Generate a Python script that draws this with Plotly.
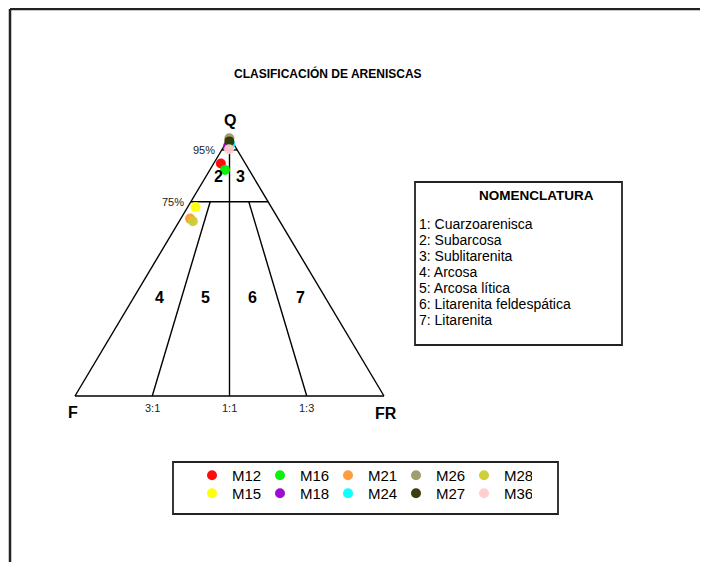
import plotly.graph_objects as go

W, H = 708, 562
OFF = 8  # margen del body de la pagina
FW, FH = W - OFF, H - OFF
FONT = 'Liberation Sans, Arial, sans-serif'

# composicion modal (%): Q = cuarzo, F = feldespato, FR = fragmentos de roca
row1 = ['M12', 'M16', 'M21', 'M26', 'M28']
row2 = ['M15', 'M18', 'M24', 'M27', 'M36']
samples = row1 + row2
q = [89.8, 87.3, 68.5, 99.5, 67.5, 73.0, 96.5, 97.3, 98.3, 95.3]
fr = [2.3, 4.9, 3.0, 0.2, 4.4, 2.5, 1.3, 1.6, 0.8, 2.2]
f = [round(100 - a - b, 1) for a, b in zip(q, fr)]
colors = ['#ff0000', '#00ee00', '#ff9933', '#999966', '#cccc33',
          '#ffff00', '#9900cc', '#00ffff', '#333300', '#ffcccc']

q_limits = [95, 75]          # lineas horizontales 95% y 75%
ratios = [3 / 4, 1 / 2, 1 / 4]  # F/(F+FR): 3:1, 1:1, 1:3
ratio_labels = ['3:1', '1:1', '1:3']
region_labels = ['2', '3', '4', '5', '6', '7']
nomenclatura = ['1: Cuarzoarenisca', '2: Subarcosa', '3: Sublitarenita', '4: Arcosa',
                '5: Arcosa lítica', '6: Litarenita feldespática', '7: Litarenita']


def to_xy(qv, frv):
    # triangulo: F a la izquierda, FR a la derecha, Q arriba
    return frv + qv / 2, qv


def px(x, y):
    # pixel de la ventana -> coordenadas papel
    return (x - OFF) / FW, 1 - (y - OFF) / FH


# lineas del diagrama
lx, ly = [], []


def seg(q1, fr1, q2, fr2):
    x1, y1 = to_xy(q1, fr1)
    x2, y2 = to_xy(q2, fr2)
    lx.extend([x1, x2, None])
    ly.extend([y1, y2, None])


# contorno
seg(0, 0, 0, 100)
seg(0, 100, 100, 0)
seg(100, 0, 0, 0)
for ql in q_limits:
    seg(ql, 0, ql, 100 - ql)
for r in ratios:
    top = q_limits[0] if r == 0.5 else q_limits[1]
    seg(top, (100 - top) * (1 - r), 0, 100 * (1 - r))

fig = go.Figure()
fig.add_trace(go.Scatter(x=lx, y=ly, mode='lines', line=dict(color='black', width=1.4),
                         showlegend=False, hoverinfo='skip'))

for i, s in enumerate(samples):
    x, y = to_xy(q[i], fr[i])
    fig.add_trace(go.Scatter(
        x=[x], y=[y], mode='markers', name=s,
        marker=dict(size=10, color=colors[i], opacity=0.95),
        legend='legend' if s in row1 else 'legend2',
        customdata=[[f[i], fr[i]]],
        hovertemplate=s + '<br>Q %{y}<br>F %{customdata[0]}<br>FR %{customdata[1]}<extra></extra>',
    ))

ann = []
big = dict(family=FONT, size=16, color='black')
small = dict(family=FONT, size=11, color='#222')
ann.append(dict(x=50, y=106.3, text='<b>Q</b>', font=big))
ann.append(dict(x=-0.6, y=-6.2, text='<b>F</b>', font=big))
ann.append(dict(x=100.6, y=-6.6, text='<b>FR</b>', font=big))
for ql in q_limits:
    ann.append(dict(x=ql / 2 - 1.5, y=ql, text=f'{ql}%', xanchor='right', font=small))
for r, lab in zip(ratios, ratio_labels):
    ann.append(dict(x=100 * (1 - r), y=-4.6, text=lab, font=small))
reg_pos = [(46.6, 84.6), (53.4, 84.6), (27.2, 38.2), (42.1, 38.2), (57.6, 38.2), (73.1, 38.2)]
for lab, (x, y) in zip(region_labels, reg_pos):
    ann.append(dict(x=x, y=y, text=f'<b>{lab}</b>', font=big))
for a in ann:
    a.update(showarrow=False, xref='x', yref='y')
    a.setdefault('xanchor', 'center')
    a.setdefault('yanchor', 'middle')


def paper_text(x, y, text, size, anchor='center'):
    ax, ay = px(x, y)
    ann.append(dict(x=ax, y=ay, xref='paper', yref='paper', showarrow=False,
                    xanchor=anchor, yanchor='middle', text=text,
                    font=dict(family=FONT, size=size, color='black')))


# titulo y recuadro de nomenclatura
paper_text(328, 73, '<b>CLASIFICACIÓN DE ARENISCAS</b>', 12)
paper_text(536, 196, '<b>NOMENCLATURA</b>', 13.5)
for i, t in enumerate(nomenclatura):
    paper_text(417, 224 + 16 * i, t, 14, anchor='left')

shapes = []
x0, y0 = px(10, 9)
shapes.append(dict(type='line', xref='paper', yref='paper', x0=x0, x1=1, y0=y0, y1=y0,
                   line=dict(color='#222', width=2.5)))
shapes.append(dict(type='line', xref='paper', yref='paper', x0=x0, x1=x0, y0=y0, y1=0,
                   line=dict(color='#222', width=2.5)))
for (a, b, c, d) in [(415, 182, 622, 345), (173, 462, 558, 514)]:
    ax, ay = px(a, b)
    bx, by = px(c, d)
    shapes.append(dict(type='rect', xref='paper', yref='paper', x0=ax, y0=by, x1=bx, y1=ay,
                       line=dict(color='#222', width=1.8)))

lx1, ly1 = px(192, 459)
lx2, ly2 = px(192, 477)
leg = dict(orientation='h', xanchor='left', yanchor='top', entrywidth=23, entrywidthmode='pixels',
           bgcolor='rgba(0,0,0,0)', borderwidth=0, font=dict(family=FONT, size=15, color='black'),
           itemsizing='trace')

# ejes: base F-FR de 75 a 384 px, Q=0 en y=396 px y Q=100 en y=137 px (ventana)
sx, sy = 3.09, 2.59
fig.update_layout(
    width=FW, height=FH, autosize=False,
    margin=dict(l=0, r=0, t=0, b=0),
    paper_bgcolor='white', plot_bgcolor='white',
    xaxis=dict(range=[-(75 - OFF) / sx, (W - 75) / sx], visible=False, fixedrange=True),
    yaxis=dict(range=[-(H - 396) / sy, (396 - OFF) / sy], visible=False, fixedrange=True),
    annotations=ann, shapes=shapes,
    legend=dict(leg, x=lx1, y=ly1),
    legend2=dict(leg, x=lx2, y=ly2),
    font=dict(family=FONT),
)

fig.write_html('out.html')
